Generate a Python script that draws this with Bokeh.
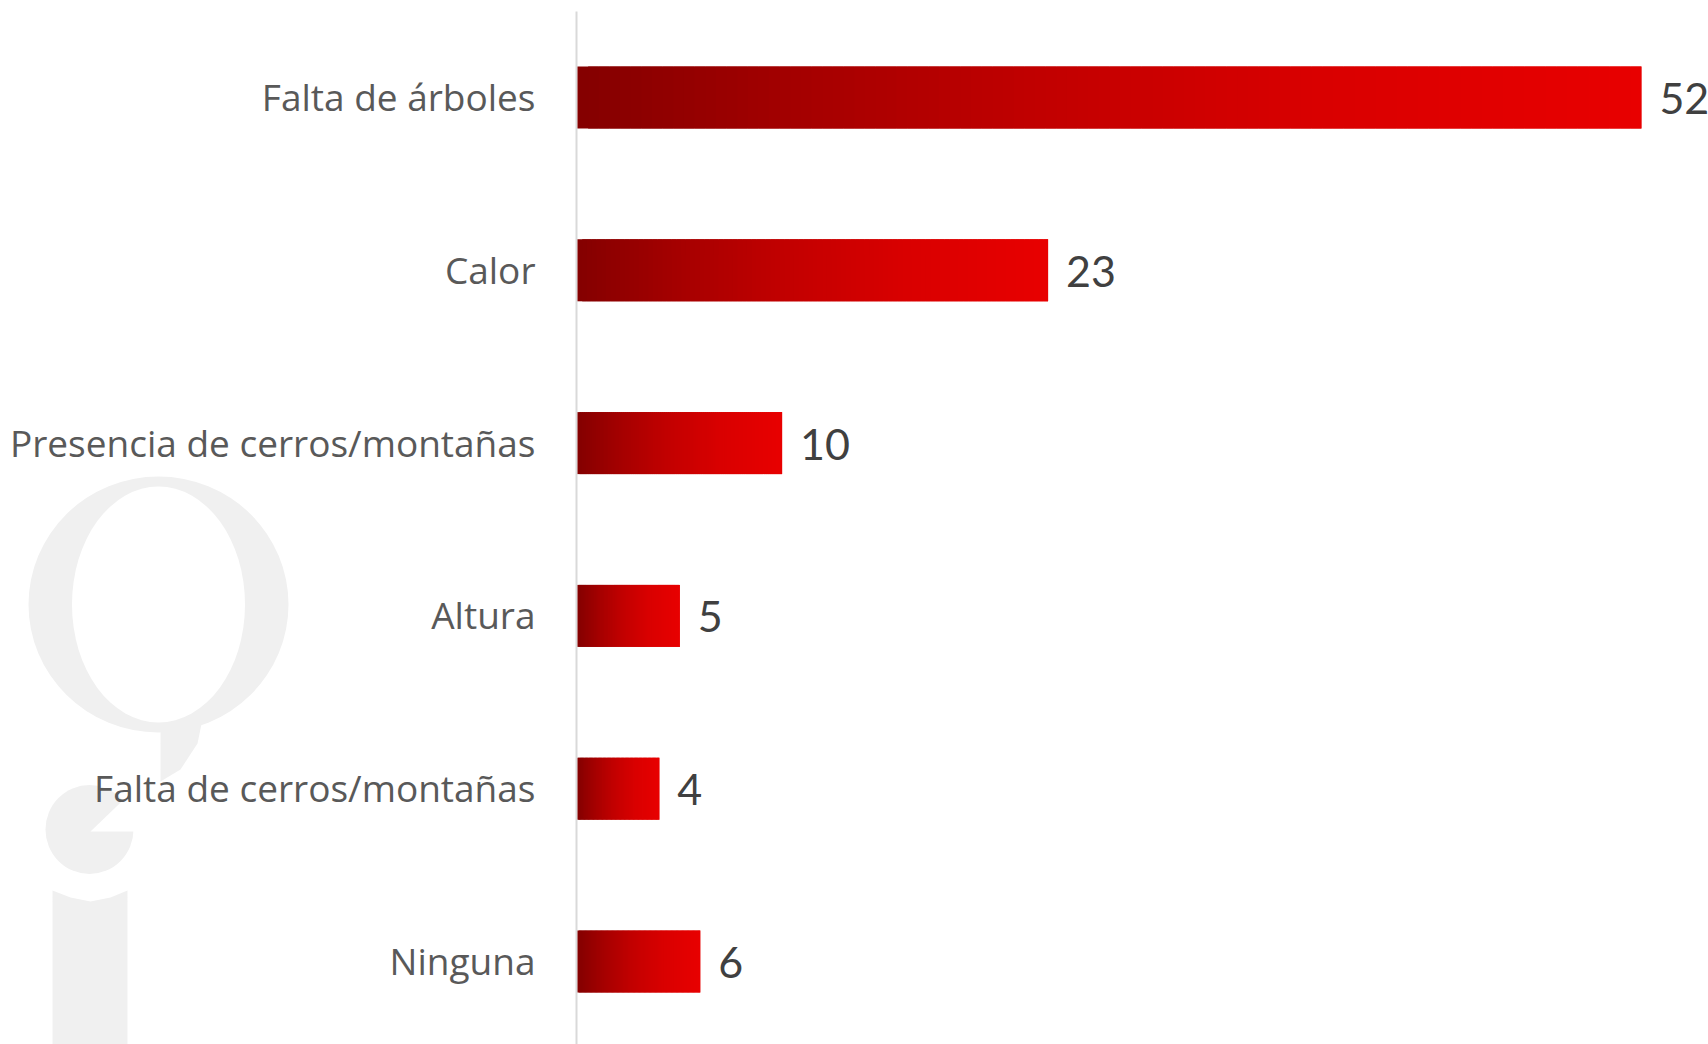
from bokeh.plotting import figure
from bokeh.models import ColumnDataSource, Range1d
from bokeh.core.properties import value
from bokeh.embed import file_html
from bokeh.resources import INLINE

# ---- data ----
categories = ["Falta de árboles", "Calor", "Presencia de cerros/montañas",
              "Altura", "Falta de cerros/montañas", "Ninguna"]
values = [52, 23, 10, 5, 4, 6]

# ---- geometry (pixels -> data) ----
W, H = 1708, 1044
SX = 20.46          # px per unit on x
SY = 172.8          # px per category on y
X0_PX = 577         # px where value 0 sits
TOP_PX = 97         # px of first category centre
xstart = -X0_PX / SX
xend = xstart + W / SX
yend = (len(categories) - 1) + TOP_PX / SY
ystart = yend - H / SY

def px(xp, yp):
    """picture pixel -> data coords"""
    return xstart + xp / SX, yend - yp / SY

def poly(pts, color):
    p.patch(x=[px(a, b)[0] for a, b in pts], y=[px(a, b)[1] for a, b in pts],
            fill_color=color, line_color=None)

p = figure(width=W, height=H, x_range=Range1d(xstart, xend), y_range=Range1d(ystart, yend),
           output_backend="svg", toolbar_location=None, min_border=0,
           background_fill_color="white", border_fill_color="white")
p.axis.visible = False
p.grid.visible = False
p.outline_line_color = None

# ---- watermark (decorative) ----
wm = "#F0F0F0"
cx, cy = px(158, 604)
p.ellipse(x=cx, y=cy, width=260 / SX, height=256 / SY, fill_color=wm, line_color=None)
poly([(145, 716), (160, 722), (160, 781), (180, 769), (197, 743), (205, 704), (215, 690)], wm)
p.ellipse(x=cx, y=cy, width=173 / SX, height=236 / SY, fill_color="white", line_color=None)
dx, dy = px(89, 829)
p.ellipse(x=dx, y=dy, width=88 / SX, height=89 / SY, fill_color=wm, line_color=None)
poly([(90, 831), (140, 831), (140, 783)], "white")
poly([(52, 890), (70, 897), (90, 901), (110, 897), (127, 890), (127, 1050), (52, 1050)], wm)

# ---- axis line ----
n = len(categories)
ys = [n - 1 - i for i in range(n)]
ax_x = -1 / SX
p.segment(x0=[ax_x], y0=[px(0, 11)[1]], x1=[ax_x], y1=[ystart], line_color="#D9D9D9", line_width=2)

# ---- gradient bars ----
stops = [(0.0, (0x84, 0, 0)), (0.22, (0xA6, 0, 0)), (0.45, (0xC3, 0, 0)),
         (0.70, (0xD9, 0, 0)), (1.0, (0xE8, 0, 0))]

def grad(t):
    for (t0, c0), (t1, c1) in zip(stops[:-1], stops[1:]):
        if t <= t1:
            f = (t - t0) / (t1 - t0)
            return "#%02x%02x%02x" % tuple(int(round(a + (b - a) * f)) for a, b in zip(c0, c1))
    return "#%02x%02x%02x" % stops[-1][1]

N = 100
L, R, Y, C = [], [], [], []
for v, y in zip(values, ys):
    for k in range(N):
        L.append(v * k / N)
        R.append(v * min(k + 2, N) / N)
        Y.append(y)
        C.append(grad((k + 0.5) / N))
src = ColumnDataSource(dict(left=L, right=R, y=Y, color=C))
p.hbar(y="y", left="left", right="right", height=62 / SY, fill_color="color", line_color=None, source=src)

# ---- labels ----
lab = ColumnDataSource(dict(x=[0] * n, y=ys, text=categories))
p.text(x="x", y="y", text="text", source=lab, x_offset=-42, y_offset=-1,
       text_align="right", text_baseline="middle", text_color="#595959",
       text_font=value("Open Sans"), text_font_size="37px")

vals = ColumnDataSource(dict(x=values, y=ys, text=[str(v) for v in values]))
p.text(x="x", y="y", text="text", source=vals, x_offset=18, y_offset=1,
       text_align="left", text_baseline="middle", text_color="#404040",
       text_font=value("Lato"), text_font_size="43px")

open("out.html", "w").write(file_html(p, INLINE))
